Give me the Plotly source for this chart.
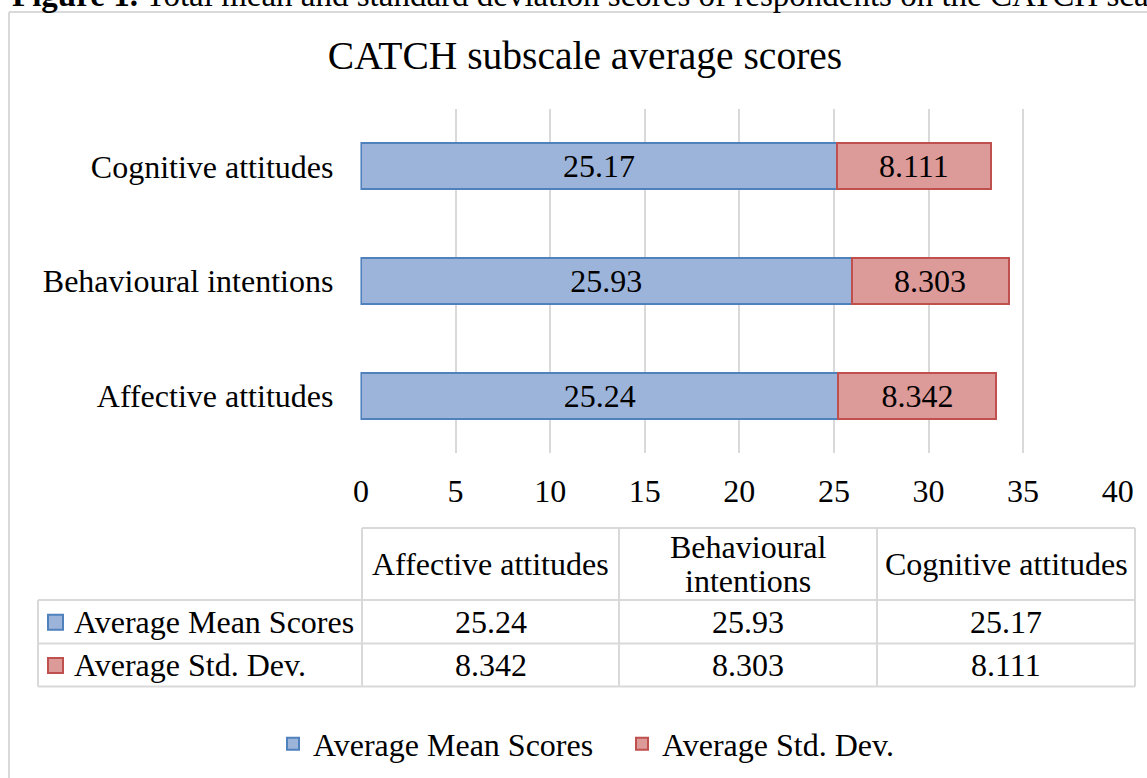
import plotly.graph_objects as go

# ---------------- data ----------------
categories = ["Affective attitudes", "Behavioural intentions", "Cognitive attitudes"]
mean_scores = [25.24, 25.93, 25.17]
std_devs = [8.342, 8.303, 8.111]
series_names = ["Average Mean Scores", "Average Std. Dev."]
x_ticks = [0, 5, 10, 15, 20, 25, 30, 35, 40]
title_text = "CATCH subscale average scores"
caption_bold = "Figure 1."
caption_rest = "Total mean and standard deviation scores of respondents on the CATCH scale"

# ---------------- styling ----------------
W, H = 1147, 778


def px(x):
    return x / W


def py(y):
    return 1 - y / H


FONT = "Liberation Serif, Times New Roman, serif"
GRID = "#d9d9d9"
BLUE_FILL = "#9db4da"
BLUE_LINE = "#4f81bd"
RED_FILL = "#dc9a99"
RED_LINE = "#c0504d"
FS = 32

# x axis geometry (pixels): value 0 at 361, value 40 at 1117.7
X0_PX, X40_PX = 361.0, 1117.7
UNIT = (X40_PX - X0_PX) / 40.0
PAD = 0.03
x_range = [-PAD, 40 + PAD]
x_domain = [px(X0_PX - PAD * UNIT), px(X40_PX + PAD * UNIT)]

fig = go.Figure()
fig.add_trace(go.Bar(
    y=categories, x=mean_scores, orientation="h", name=series_names[0],
    marker=dict(color=BLUE_FILL, line=dict(color=BLUE_LINE, width=2)),
    text=[f"{v:g}" for v in mean_scores], textposition="inside",
    insidetextanchor="middle", constraintext="none",
    textfont=dict(family=FONT, size=FS, color="black"), hoverinfo="skip",
))
fig.add_trace(go.Bar(
    y=categories, x=std_devs, orientation="h", name=series_names[1],
    marker=dict(color=RED_FILL, line=dict(color=RED_LINE, width=2)),
    text=[f"{v:g}" for v in std_devs], textposition="inside",
    insidetextanchor="middle", constraintext="none",
    textfont=dict(family=FONT, size=FS, color="black"), hoverinfo="skip",
))

shapes = []
annotations = []

# outer chart border: only left and top edges are inside the picture
border = dict(color=GRID, width=2)
shapes.append(dict(type="line", xref="paper", yref="paper",
                   x0=px(9), x1=px(9), y0=py(H), y1=py(12), line=border, layer="below"))
shapes.append(dict(type="line", xref="paper", yref="paper",
                   x0=px(9), x1=px(W), y0=py(12), y1=py(12), line=border, layer="below"))

# caption above the chart (partially cut at the top of the picture)
annotations.append(dict(
    xref="paper", yref="paper", x=px(10), y=py(15), xanchor="left", yanchor="bottom",
    text=f"<b>{caption_bold}</b> {caption_rest}", showarrow=False,
    font=dict(family=FONT, size=33, color="black"),
))

# ---------------- data table ----------------
tbl_left = 38
col_edges = [362, 619, 877, 1135]
header_top, header_bot = 528, 600
row_edges = [600, 643.5, 686.5]
tbl_line = dict(color=GRID, width=2)

shapes.append(dict(type="line", xref="paper", yref="paper", x0=px(col_edges[0]), x1=px(col_edges[-1]),
                   y0=py(header_top), y1=py(header_top), line=tbl_line))
for yy in row_edges:
    shapes.append(dict(type="line", xref="paper", yref="paper", x0=px(tbl_left), x1=px(col_edges[-1]),
                       y0=py(yy), y1=py(yy), line=tbl_line))
shapes.append(dict(type="line", xref="paper", yref="paper", x0=px(tbl_left), x1=px(tbl_left),
                   y0=py(row_edges[0]), y1=py(row_edges[-1]), line=tbl_line))
for xx in col_edges:
    shapes.append(dict(type="line", xref="paper", yref="paper", x0=px(xx), x1=px(xx),
                       y0=py(header_top), y1=py(row_edges[-1]), line=tbl_line))

tfont = dict(family=FONT, size=FS, color="black")
# header cells
for i, cat in enumerate(categories):
    cx = (col_edges[i] + col_edges[i + 1]) / 2
    cy = (header_top + header_bot) / 2
    words = cat.split(" ")
    if len(cat) > 20:
        lines = [" ".join(words[:-1]), words[-1]]
        offs = [-17, 17]
    else:
        lines = [cat]
        offs = [0]
    for ln, off in zip(lines, offs):
        annotations.append(dict(xref="paper", yref="paper", x=px(cx), y=py(cy + off),
                                xanchor="center", yanchor="middle", text=ln,
                                showarrow=False, font=tfont))

# data rows
series_vals = [mean_scores, std_devs]
fills = [BLUE_FILL, RED_FILL]
lines_c = [BLUE_LINE, RED_LINE]
for r, (name, vals) in enumerate(zip(series_names, series_vals)):
    cy = (row_edges[r] + row_edges[r + 1]) / 2
    shapes.append(dict(type="rect", xref="paper", yref="paper",
                       x0=px(48), x1=px(63), y0=py(cy + 8), y1=py(cy - 7),
                       fillcolor=fills[r], line=dict(color=lines_c[r], width=2)))
    annotations.append(dict(xref="paper", yref="paper", x=px(72), y=py(cy),
                            xanchor="left", yanchor="middle", text=name,
                            showarrow=False, font=tfont))
    for i, v in enumerate(vals):
        cx = (col_edges[i] + col_edges[i + 1]) / 2
        annotations.append(dict(xref="paper", yref="paper", x=px(cx), y=py(cy),
                                xanchor="center", yanchor="middle", text=f"{v:g}",
                                showarrow=False, font=tfont))

fig.update_layout(
    width=W, height=H, autosize=False,
    margin=dict(l=0, r=0, t=0, b=0, pad=0, autoexpand=False),
    paper_bgcolor="white", plot_bgcolor="white",
    barmode="stack", bargap=0.6,
    font=dict(family=FONT, size=FS, color="black"),
    title=dict(text=title_text, x=px(585), y=py(55), xanchor="center", yanchor="middle",
               font=dict(family=FONT, size=39.5, color="black")),
    xaxis=dict(domain=x_domain, range=x_range, tickvals=x_ticks,
               showgrid=True, gridcolor=GRID, gridwidth=2, zeroline=False, showline=False,
               ticks="", ticklabelstandoff=16, tickfont=dict(family=FONT, size=FS, color="black")),
    yaxis=dict(domain=[py(453), py(109)], showgrid=False, zeroline=False, showline=False,
               ticks="", ticklabelstandoff=26, tickfont=dict(family=FONT, size=FS, color="black")),
    legend=dict(orientation="h", x=px(273), y=py(744), xanchor="left", yanchor="middle",
                font=dict(family=FONT, size=FS, color="black"), traceorder="normal",
                entrywidth=304, entrywidthmode="pixels",
                bgcolor="rgba(0,0,0,0)"),
    shapes=shapes, annotations=annotations,
    hovermode=False,
)

fig.write_html("out.html", config={"displayModeBar": False},
               post_script="document.body.style.margin='0';document.documentElement.style.overflow='hidden';")
